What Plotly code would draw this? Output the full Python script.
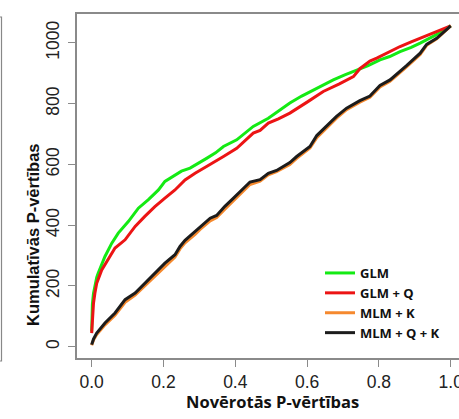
import plotly.graph_objects as go

# ---- data ----
series_names = ["GLM", "GLM + Q", "MLM + K", "MLM + Q + K"]
series_colors = ["#14EA14", "#EC1414", "#F5892E", "#1C1C1C"]

glm_x = [0, 0.002, 0.005, 0.009, 0.014, 0.018, 0.028, 0.037, 0.056, 0.074, 0.102, 0.13,
         0.158, 0.186, 0.204, 0.227, 0.25, 0.274, 0.30, 0.32, 0.345, 0.367, 0.404, 0.45,
         0.492, 0.52, 0.552, 0.585, 0.617, 0.645, 0.673, 0.705, 0.738, 0.747, 0.77, 0.803,
         0.83, 0.859, 0.89, 0.915, 0.952, 0.975, 1.0]
glm_y = [50, 140, 175, 205, 228, 242, 272, 297, 341, 374, 412, 456,
         484, 516, 544, 560, 578, 588, 605, 620, 638, 659, 681, 725,
         752, 775, 802, 825, 845, 862, 878, 895, 911, 915, 925, 944,
         955, 971, 985, 999, 1021, 1036, 1056]

glmq_x = [0, 0.002, 0.005, 0.009, 0.014, 0.028, 0.046, 0.065, 0.093, 0.121, 0.148, 0.176,
          0.204, 0.232, 0.26, 0.288, 0.32, 0.345, 0.367, 0.404, 0.45, 0.469, 0.492, 0.52,
          0.552, 0.60, 0.645, 0.69, 0.729, 0.747, 0.775, 0.794, 0.82, 0.859, 0.89, 0.915,
          0.96, 1.0]
glmq_y = [45, 110, 143, 177, 209, 253, 286, 325, 352, 396, 429, 461,
          489, 516, 549, 571, 593, 610, 626, 653, 703, 712, 736, 750,
          769, 805, 840, 865, 889, 915, 940, 950, 965, 988, 1003, 1015,
          1035, 1056]

mlmqk_x = [0, 0.005, 0.014, 0.025, 0.037, 0.065, 0.093, 0.121, 0.148, 0.176, 0.204, 0.232,
           0.246, 0.26, 0.288, 0.302, 0.33, 0.348, 0.371, 0.395, 0.42, 0.441, 0.469, 0.492,
           0.515, 0.552, 0.571, 0.608, 0.627, 0.655, 0.682, 0.71, 0.747, 0.775, 0.803, 0.831,
           0.855, 0.877, 0.915, 0.933, 0.961, 1.0]
mlmqk_y = [7, 25, 45, 62, 78, 111, 155, 177, 209, 242, 275, 303,
           330, 350, 379, 396, 423, 432, 462, 489, 518, 542, 550, 571,
           580, 606, 626, 659, 695, 727, 758, 785, 810, 825, 860, 878,
           902, 925, 966, 995, 1015, 1056]

mlmk_x = mlmqk_x
mlmk_y = [5, 22, 40, 56, 72, 104, 146, 170, 200, 233, 265, 295,
          322, 342, 370, 386, 414, 425, 453, 480, 510, 534, 545, 566,
          576, 600, 620, 654, 688, 720, 752, 780, 805, 821, 855, 874,
          897, 921, 962, 992, 1013, 1056]

x_ticks = [0.0, 0.2, 0.4, 0.6, 0.8, 1.0]
x_ticklabels = ["0.0", "0.2", "0.4", "0.6", "0.8", "1.0"]
y_ticks = [0, 200, 400, 600, 800, 1000]
y_ticklabels = ["0", "200", "400", "600", "800", "1000"]

x_title = "Novērotās P-vērtības"
y_title = "Kumulatīvās P-vērtības"

# ---- figure ----
W, H = 459, 419
ML, MT, MB = 77, 14, 61
plot_w = W - ML
plot_h = H - MT - MB

fig = go.Figure()
xs = [glm_x, glmq_x, mlmk_x, mlmqk_x]
ys = [glm_y, glmq_y, mlmk_y, mlmqk_y]
for name, col, xv, yv in zip(series_names, series_colors, xs, ys):
    fig.add_trace(go.Scatter(x=xv, y=yv, mode="lines", name=name,
                             line=dict(color=col, width=3)))

axis_col = "#8a8a8a"
tick_font = dict(family="Liberation Sans, Arial", size=17.5, color="#222222")

fig.update_layout(
    width=W, height=H,
    margin=dict(l=ML, r=0, t=MT, b=MB, autoexpand=False),
    paper_bgcolor="white", plot_bgcolor="white",
    showlegend=True,
    legend=dict(x=(320 - ML) / plot_w, y=(358 - 258) / plot_h,
                xanchor="left", yanchor="top",
                bgcolor="rgba(0,0,0,0)", borderwidth=0,
                font=dict(family="Open Sans", size=13, color="#111111", weight="bold"),
                tracegroupgap=0),
    xaxis=dict(range=[-0.0409, 1.0231], tickvals=x_ticks, ticktext=x_ticklabels,
               showgrid=False, zeroline=False, showline=True, mirror=True,
               linecolor=axis_col, linewidth=1.5, ticks="outside", ticklen=7,
               tickcolor=axis_col, tickwidth=1, tickfont=tick_font,
               ticklabeloverflow="allow", automargin=False),
    yaxis=dict(range=[-37, 1095], tickvals=y_ticks, ticktext=y_ticklabels,
               showgrid=False, zeroline=False, showline=True, mirror=False,
               linecolor=axis_col, linewidth=1.5, ticks="outside", ticklen=7,
               tickcolor=axis_col, tickwidth=1, tickfont=tick_font, tickangle=-90,
               ticklabeloverflow="allow", ticklabelstandoff=2, automargin=False),
)

fig.add_annotation(text=x_title, xref="paper", yref="paper",
                   x=(272 - ML) / plot_w, y=(358 - 401) / plot_h,
                   xanchor="center", yanchor="middle", showarrow=False,
                   font=dict(family="Open Sans", size=16.5, color="#111111", weight="bold"))
fig.add_annotation(text=y_title, xref="paper", yref="paper",
                   x=(33 - ML) / plot_w, y=(358 - 235) / plot_h,
                   xanchor="center", yanchor="middle", showarrow=False, textangle=-90,
                   font=dict(family="Liberation Sans, Arial", size=16.5, color="#111111", weight="bold"))

# neighbouring panel border at far left
px = lambda p: (p - ML) / plot_w
py = lambda p: (H - MB - p) / plot_h
fig.add_shape(type="path", xref="paper", yref="paper",
              path=f"M {px(-2)},{py(17)} L {px(1.5)},{py(17)} L {px(1.5)},{py(361)} L {px(-2)},{py(361)}",
              line=dict(color="#888888", width=1.2))

fig.write_html("out.html")
